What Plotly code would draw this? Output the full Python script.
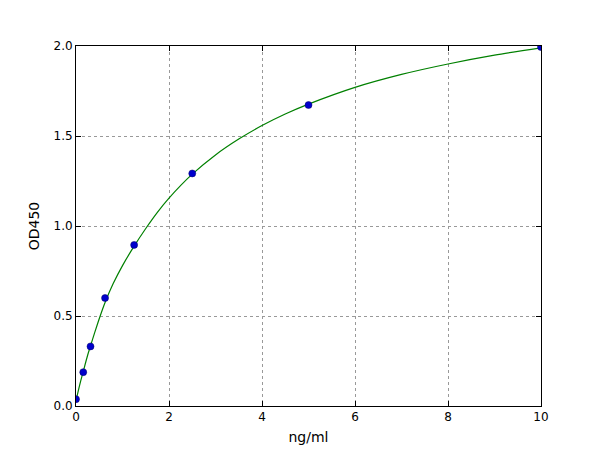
import plotly.graph_objects as go

# standard points (ng/ml vs OD450)
conc = [0, 0.156, 0.312, 0.625, 1.25, 2.5, 5, 10]
od450 = [0.038, 0.188, 0.331, 0.60, 0.895, 1.292, 1.672, 1.994]

# fitted curve
curve_x = [0, 0.05, 0.1, 0.156, 0.25, 0.3125, 0.4, 0.52, 0.625, 0.8, 1.0, 1.25,
           1.5, 1.75, 2.0, 2.5, 3.0, 3.5, 4.0, 4.5, 5.0, 6.0, 7.0, 8.0, 9.0, 10.0]
curve_y = [0.03, 0.085, 0.138, 0.192, 0.282, 0.334, 0.406, 0.5, 0.575, 0.68, 0.78, 0.888,
           0.986, 1.076, 1.155, 1.288, 1.395, 1.483, 1.558, 1.622, 1.677, 1.770, 1.842, 1.900,
           1.949, 1.99]

x_ticks = [0, 2, 4, 6, 8, 10]
y_ticks = [0.0, 0.5, 1.0, 1.5, 2.0]

fig = go.Figure()

fig.add_trace(go.Scatter(
    x=curve_x, y=curve_y, mode="lines",
    line=dict(color="#008000", width=1.2, shape="spline", smoothing=0.8),
    hoverinfo="skip",
))
fig.add_trace(go.Scatter(
    x=conc, y=od450, mode="markers",
    marker=dict(color="#0000cc", size=7, line=dict(color="#000066", width=0.5)),
))

axis_style = dict(
    showline=True, linecolor="black", linewidth=1, mirror="ticks",
    ticks="inside", ticklen=5, tickcolor="black",
    showgrid=True, gridcolor="#999999", griddash="dot", gridwidth=1,
    zeroline=False, tickfont=dict(size=12, color="black"),
)

fig.update_xaxes(range=[0, 10], tickvals=x_ticks, title=dict(text="ng/ml", standoff=8), **axis_style)
fig.update_yaxes(range=[0, 2.0], tickvals=y_ticks, tickformat=".1f",
                 title=dict(text="OD450", standoff=10), **axis_style)

# margins offset a bit to allow for the page's own body margin
fig.update_layout(
    width=600, height=450,
    margin=dict(l=68, r=67, t=38, b=52),
    paper_bgcolor="white", plot_bgcolor="white",
    font=dict(family="DejaVu Sans", size=12, color="black"),
    showlegend=False,
)

fig.write_html("out.html")
